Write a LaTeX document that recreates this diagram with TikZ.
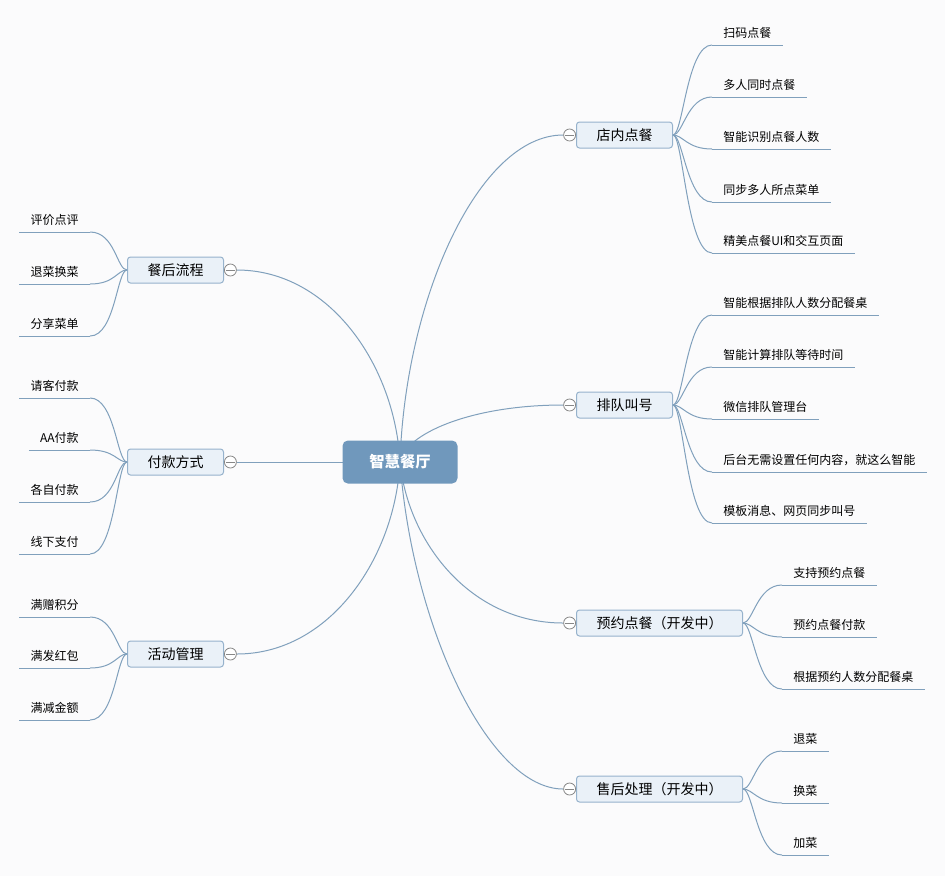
\documentclass[tikz,border=0pt]{standalone}
\usepackage{fontspec}
\setmainfont{Noto Sans CJK SC}
\usetikzlibrary{positioning,calc,backgrounds}

\definecolor{linecol}{RGB}{128,160,188}
\definecolor{rootfill}{RGB}{112,152,188}
\definecolor{topicfill}{RGB}{234,241,248}
\definecolor{topicdraw}{RGB}{150,178,204}
\definecolor{knobcol}{RGB}{135,135,135}
\definecolor{paper}{RGB}{251,251,252}

\tikzstyle{link} = [draw=linecol,line width=0.75pt]
\tikzstyle{rootnode} = [shape=rectangle,rounded corners=4pt,fill=rootfill,text=white,font=\fontsize{11.5pt}{14pt}\selectfont\bfseries,minimum width=86.25pt,minimum height=32.25pt]
\tikzstyle{topic} = [shape=rectangle,rounded corners=2.25pt,draw=topicdraw,fill=topicfill,line width=0.75pt,font=\fontsize{10.5pt}{12pt}\selectfont,inner xsep=15pt,minimum height=19.5pt]
\tikzstyle{leaf} = [font=\fontsize{9pt}{11pt}\selectfont,inner xsep=8.25pt,inner ysep=5.7pt,text height=6.75pt,text depth=0pt]
\tikzstyle{knob} = [shape=circle,draw=knobcol,fill=white,line width=0.6pt,minimum size=9pt,inner sep=0pt]

\begin{document}
\begin{tikzpicture}[x=0.75pt,y=-0.75pt]
      \useasboundingbox (0,0) rectangle (945,876);
      %% central topic
      \node (root) at (400,462) [rootnode] {智慧餐厅};

      %% main topics, right side
      \foreach \nodename/\y/\label in {store/135/店内点餐, queue/405/排队叫号,
        booking/623/预约点餐（开发中）, service/789/售后处理（开发中）}
      {
        \node (\nodename) at (576,\y) [topic,anchor=west] {\label};
        \node (\nodename-knob) [knob,left=0pt of \nodename] {};
        \draw[knobcol,line width=0.6pt] ([xshift=1.5pt]\nodename-knob.west) -- ([xshift=-1.5pt]\nodename-knob.east);
      }
      %% main topics, left side
      \foreach \nodename/\y/\label in {after/270/餐后流程, payment/462/付款方式, promo/654/活动管理}
      {
        \node (\nodename) at (224,\y) [topic,anchor=east] {\label};
        \node (\nodename-knob) [knob,right=0pt of \nodename] {};
        \draw[knobcol,line width=0.6pt] ([xshift=1.5pt]\nodename-knob.west) -- ([xshift=-1.5pt]\nodename-knob.east);
      }

      %% links from the central topic
      \begin{scope}[on background layer]
        \fill[paper] (0,0) rectangle (945,876);
        \foreach \endnode/\anchor/\ax/\ay/\bx in {store/west/5/-162/-85, queue/west/5/-28/-93,
          booking/west/8/80/-93, service/west/12/163/-75, after/east/-5/-96/93, promo/east/-5/96/93}
        {
          \draw[link] (root.center) .. controls ($(root.center)+(\ax,\ay)$) and ($(\endnode-knob.\anchor)+(\bx,0)$) .. (\endnode-knob.\anchor);
        }
        \draw[link] (root.center) -- (payment-knob.east);
      \end{scope}

      %% subtopics, right side
      \foreach \parent/\nodename/\x/\y/\label in {
        store/st1/712/45/扫码点餐, store/st2/712/97/多人同时点餐, store/st3/712/149/智能识别点餐人数,
        store/st4/712/202/同步多人所点菜单, store/st5/712/253/精美点餐UI和交互页面,
        queue/qu1/712/315/智能根据排队人数分配餐桌, queue/qu2/712/367/智能计算排队等待时间,
        queue/qu3/712/419/微信排队管理台, queue/qu4/712/472/后台无需设置任何内容，就这么智能,
        queue/qu5/712/523/模板消息、网页同步叫号,
        booking/bk1/782/585/支持预约点餐, booking/bk2/782/637/预约点餐付款, booking/bk3/782/689/根据预约人数分配餐桌,
        service/sv1/782/751/退菜, service/sv2/782/803/换菜, service/sv3/782/855/加菜}
      {
        \node (\nodename) at (\x,\y) [leaf,anchor=south west] {\label};
        \draw[link] (\nodename.south west) -- (\nodename.south east);
        \draw[link] (\parent.east) to[out=0,in=180,out distance=7.5pt,in distance=18.75pt] (\nodename.south west);
      }
      %% subtopics, left side
      \foreach \parent/\nodename/\x/\y/\label in {
        after/af1/90/232/评价点评, after/af2/90/284/退菜换菜, after/af3/90/336/分享菜单,
        payment/pa1/90/398/请客付款, payment/pa2/90/450/AA付款, payment/pa3/90/502/各自付款,
        payment/pa4/90/554/线下支付,
        promo/pr1/90/617/满赠积分, promo/pr2/90/668/满发红包, promo/pr3/90/720/满减金额}
      {
        \node (\nodename) at (\x,\y) [leaf,anchor=south east] {\label};
        \draw[link] (\nodename.south west) -- (\nodename.south east);
        \draw[link] (\parent.west) to[out=180,in=0,out distance=7.5pt,in distance=18.75pt] (\nodename.south east);
      }
\end{tikzpicture}
\end{document}
